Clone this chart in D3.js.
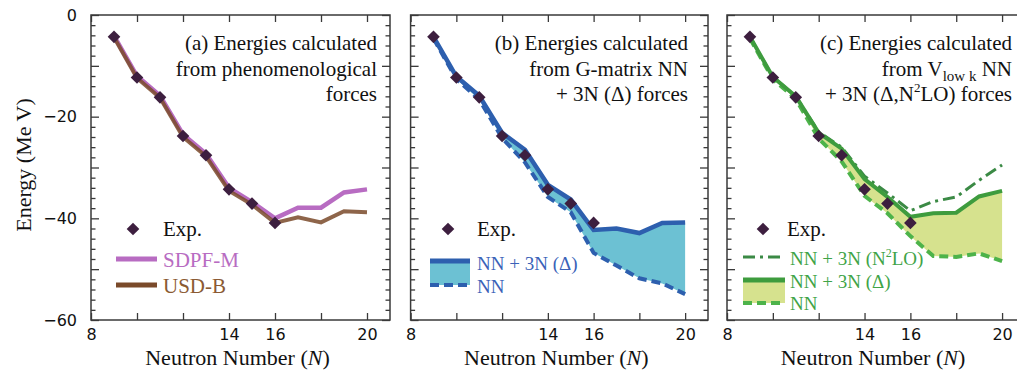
<!DOCTYPE html>
<html><head><meta charset="utf-8">
<script src="https://cdn.jsdelivr.net/npm/d3@7"></script>
<style>body{margin:0;background:#fff}svg{display:block}
.serif{font-family:"Liberation Serif","DejaVu Serif","Noto Serif","Times New Roman",Times,serif}
.sans{font-family:"DejaVu Sans",Verdana,sans-serif}
</style>
</head><body>
<svg id="chart" width="1017" height="373"></svg>
<script>
// ---- data ----
const neutrons = [9,10,11,12,13,14,15,16,17,18,19,20];
const expN = [9,10,11,12,13,14,15,16];
const expE = [-4.3,-12.3,-16.2,-23.8,-27.6,-34.3,-37.1,-40.9];
// panel (a)
const sdpfm = [-4.1,-12.0,-15.9,-23.5,-27.3,-34.0,-36.8,-40.0,-37.9,-37.9,-34.9,-34.3];
const usdb  = [-4.4,-12.4,-16.3,-24.0,-27.8,-34.6,-37.3,-40.9,-39.8,-40.8,-38.6,-38.8];
// panel (b) G-matrix
const gNN3N = [-4.3,-12.1,-15.9,-23.2,-26.5,-33.4,-36.3,-42.3,-42.0,-42.9,-40.9,-40.8];
const gNN   = [-4.6,-12.6,-16.6,-24.2,-29.0,-35.8,-38.8,-46.8,-49.3,-51.8,-52.8,-54.9];
// panel (c) Vlowk
const vNN3N  = [-4.3,-12.2,-16.0,-23.2,-26.3,-32.3,-35.8,-39.7,-39.0,-38.9,-35.7,-34.6];
const vN2LO  = [-4.3,-12.2,-16.0,-23.0,-26.0,-31.7,-35.0,-38.5,-36.7,-35.8,-32.5,-29.5];
const vNN    = [-4.6,-12.6,-16.5,-24.3,-28.8,-35.6,-39.0,-43.5,-47.4,-47.6,-46.9,-48.4];
const xTicks = [8,10,12,14,16,18,20];
const xLabels = [8,14,16,20];
const yMajor = [0,-10,-20,-30,-40,-50,-60];
const yMinor = d3.range(0,-61,-2);
const yLabels = [0,-20,-40,-60];

const svg = d3.select("#chart");
const frames = [[91,390],[410.6,708],[727,1025]];
const yTop = 15, yBot = 320;
const y = d3.scaleLinear().domain([-60,0]).range([yBot,yTop]);
const xs = frames.map(f => d3.scaleLinear().domain([8,21]).range(f));
const frameCol = "#3a3a3a";

function stext(){ return svg.append("text").attr("class","serif").attr("fill","#111"); }

frames.forEach((f,i) => {
  const x = xs[i];
  const g = svg.append("g");
  g.append("g").attr("transform",`translate(0,${yBot})`)
    .call(d3.axisBottom(x).tickValues(xTicks).tickSize(-7).tickPadding(9)
      .tickFormat(d => xLabels.includes(d) ? d : ""));
  g.append("g").attr("transform",`translate(0,${yTop})`)
    .call(d3.axisTop(x).tickValues(xTicks).tickSize(-7).tickFormat(""));
  g.append("g").attr("transform",`translate(${f[0]},0)`)
    .call(d3.axisLeft(y).tickValues(yMajor).tickSize(-8).tickPadding(14)
      .tickFormat(d => (i===0 && yLabels.includes(d)) ? (d<0?"\u2212"+(-d):d) : ""));
  g.append("g").attr("transform",`translate(${f[0]},0)`)
    .call(d3.axisLeft(y).tickValues(yMinor.filter(v=>v%10!==0)).tickSize(-4.5).tickFormat(""));
  g.append("g").attr("transform",`translate(${f[1]},0)`)
    .call(d3.axisRight(y).tickValues(yMajor).tickSize(-8).tickFormat(""));
  g.append("g").attr("transform",`translate(${f[1]},0)`)
    .call(d3.axisRight(y).tickValues(yMinor.filter(v=>v%10!==0)).tickSize(-4.5).tickFormat(""));
  g.selectAll(".domain").remove();
  g.selectAll(".tick line").attr("stroke",frameCol).attr("stroke-width",1.3);
  g.selectAll(".tick text").attr("font-family",null).attr("class","sans").attr("font-size",16).attr("fill","#111");
  g.append("rect").attr("x",f[0]).attr("y",yTop).attr("width",f[1]-f[0]).attr("height",yBot-yTop)
    .attr("fill","none").attr("stroke",frameCol).attr("stroke-width",1.5);
  const xl = g.append("text").attr("class","serif").attr("fill","#111")
    .attr("x",(f[0]+f[1])/2 - 3).attr("y",365)
    .attr("text-anchor","middle").attr("font-size",22);
  xl.append("tspan").text("Neutron Number (");
  xl.append("tspan").attr("font-style","italic").text("N");
  xl.append("tspan").text(")");
});

stext().attr("transform","translate(31,165) rotate(-90)").attr("text-anchor","middle")
  .attr("font-size",22).text("Energy (Me V)");

function lineOf(x, vals){
  return d3.line().x((d,i)=>x(neutrons[i])).y(d=>y(d))(vals);
}
function areaOf(x, upper, lower){
  return d3.area().x((d,i)=>x(neutrons[i])).y0((d,i)=>y(lower[i])).y1(d=>y(d))(upper);
}
function diamonds(x){
  svg.append("g").selectAll("path").data(expE).join("path")
    .attr("d", d3.symbol(d3.symbolSquare, 80)())
    .attr("transform",(d,i)=>`translate(${x(expN[i])},${y(d)}) rotate(45)`)
    .attr("fill","#3d1f3f");
}
function title(xr, lines){
  lines.forEach((ln,k)=>{
    const t = stext().attr("x",xr).attr("y",50+k*25.5).attr("text-anchor","end").attr("font-size",21);
    ln(t);
  });
}
function legendDiamond(cx, tx){
  svg.append("path").attr("d", d3.symbol(d3.symbolSquare, 80)())
    .attr("transform",`translate(${cx},229) rotate(45)`).attr("fill","#3d1f3f");
  stext().attr("x",tx).attr("y",236).attr("font-size",21).text("Exp.");
}

// ---- panel (a) ----
{
  const x = xs[0];
  const purple = "#b86cc2", brown = "#7a4a2a";
  svg.append("path").attr("d",lineOf(x,sdpfm)).attr("fill","none").attr("stroke",purple).attr("stroke-width",4.5);
  svg.append("path").attr("d",lineOf(x,usdb)).attr("fill","none").attr("stroke",brown).attr("stroke-width",4).attr("stroke-opacity",0.85);
  diamonds(x);
  title(377,[
    t=>t.text("(a)  Energies calculated"),
    t=>t.text("from phenomenological"),
    t=>t.text("forces")
  ]);
  legendDiamond(133,163);
  svg.append("line").attr("x1",116).attr("x2",157).attr("y1",259).attr("y2",259).attr("stroke",purple).attr("stroke-width",5);
  stext().attr("x",163).attr("y",267).attr("font-size",21).attr("fill","#b86cc2").text("SDPF-M");
  svg.append("line").attr("x1",116).attr("x2",157).attr("y1",285).attr("y2",285).attr("stroke",brown).attr("stroke-width",5);
  stext().attr("x",163).attr("y",293).attr("font-size",21).attr("fill","#8b5a32").text("USD-B");
}

// ---- panel (b) ----
{
  const x = xs[1];
  const blue = "#2d5fae", fill = "#6cc1d3";
  svg.append("path").attr("d",areaOf(x,gNN3N,gNN)).attr("fill",fill);
  svg.append("path").attr("d",lineOf(x,gNN)).attr("fill","none").attr("stroke",blue).attr("stroke-width",4).attr("stroke-dasharray","9,5");
  svg.append("path").attr("d",lineOf(x,gNN3N)).attr("fill","none").attr("stroke",blue).attr("stroke-width",4.5);
  diamonds(x);
  title(688,[
    t=>t.text("(b) Energies calculated"),
    t=>t.text("from G-matrix NN"),
    t=>t.text("+ 3N (\u0394) forces")
  ]);
  legendDiamond(448,477);
  svg.append("rect").attr("x",430).attr("y",261).attr("width",40).attr("height",24).attr("fill",fill);
  svg.append("line").attr("x1",430).attr("x2",470).attr("y1",261).attr("y2",261).attr("stroke",blue).attr("stroke-width",5);
  svg.append("line").attr("x1",430).attr("x2",470).attr("y1",285).attr("y2",285).attr("stroke",blue).attr("stroke-width",4).attr("stroke-dasharray","9,5");
  stext().attr("x",477).attr("y",270).attr("font-size",19).attr("fill","#3a62b8").text("NN + 3N (\u0394)");
  stext().attr("x",477).attr("y",293).attr("font-size",19).attr("fill","#3a62b8").text("NN");
}

// ---- panel (c) ----
{
  const x = xs[2];
  const green = "#3e9c3e", lgreen = "#4db34a", dgreen = "#3b8a45", fill = "#d6e28e";
  svg.append("path").attr("d",areaOf(x,vNN3N,vNN)).attr("fill",fill);
  svg.append("path").attr("d",lineOf(x,vNN)).attr("fill","none").attr("stroke",lgreen).attr("stroke-width",4).attr("stroke-dasharray","9,5");
  svg.append("path").attr("d",lineOf(x,vN2LO)).attr("fill","none").attr("stroke",dgreen).attr("stroke-width",3).attr("stroke-dasharray","12,5,3,5");
  svg.append("path").attr("d",lineOf(x,vNN3N)).attr("fill","none").attr("stroke",green).attr("stroke-width",4);
  diamonds(x);
  title(1012,[
    t=>t.text("(c) Energies calculated"),
    t=>{ t.append("tspan").text("from  V");
         t.append("tspan").attr("font-size",15).attr("dy",5).text("low k");
         t.append("tspan").attr("dy",-5).text(" NN"); },
    t=>{ t.append("tspan").text("+ 3N (\u0394,N");
         t.append("tspan").attr("font-size",13).attr("dy",-9).text("2");
         t.append("tspan").attr("dy",9).text("LO) forces"); }
  ]);
  legendDiamond(763,787);
  svg.append("line").attr("x1",743).attr("x2",785).attr("y1",257).attr("y2",257).attr("stroke",dgreen).attr("stroke-width",3).attr("stroke-dasharray","12,5,3,5");
  svg.append("rect").attr("x",743).attr("y",280).attr("width",42).attr("height",23).attr("fill",fill);
  svg.append("line").attr("x1",743).attr("x2",785).attr("y1",280).attr("y2",280).attr("stroke",green).attr("stroke-width",5);
  svg.append("line").attr("x1",743).attr("x2",785).attr("y1",303).attr("y2",303).attr("stroke",lgreen).attr("stroke-width",4).attr("stroke-dasharray","9,5");
  const tc = "#3fa447";
  const t1 = stext().attr("x",790).attr("y",265).attr("font-size",19).attr("fill",tc);
  t1.append("tspan").text("NN + 3N (N");
  t1.append("tspan").attr("font-size",12).attr("dy",-8).text("2");
  t1.append("tspan").attr("dy",8).text("LO)");
  stext().attr("x",790).attr("y",288).attr("font-size",19).attr("fill",tc).text("NN + 3N (\u0394)");
  stext().attr("x",790).attr("y",310).attr("font-size",19).attr("fill",tc).text("NN");
}
</script>
</body></html>
